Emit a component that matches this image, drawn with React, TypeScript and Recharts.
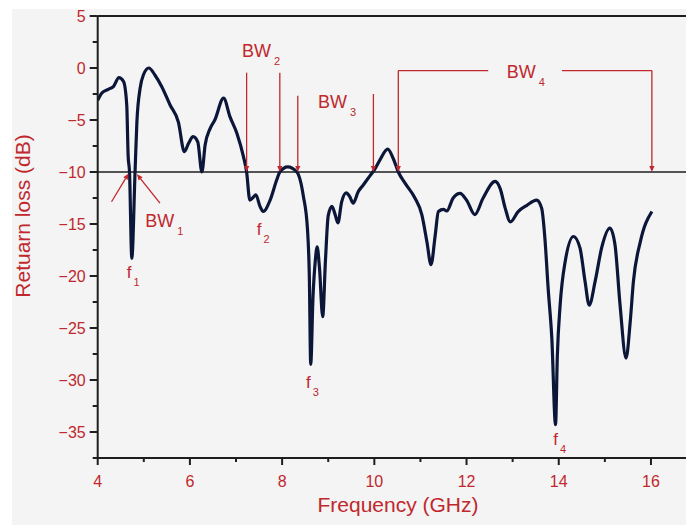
import { LineChart, Line, XAxis, YAxis, ReferenceLine, ReferenceDot } from "recharts";

const RED = "#c0282d";
const NAVY = "#0c1638";
const AXIS = "#1e1e1e";
const FONT = "'Liberation Sans', Arial, sans-serif";

// frequency (GHz) and return loss (dB)
const freqs = [
  4.0, 4.09, 4.23, 4.34, 4.46, 4.56, 4.63, 4.66, 4.69, 4.74, 4.81, 4.85, 4.92, 4.99, 5.11,
  5.24, 5.39, 5.57, 5.75, 5.88, 5.97, 6.07, 6.17, 6.26, 6.33, 6.44, 6.54, 6.73, 6.87, 7.02,
  7.16, 7.23, 7.3, 7.38, 7.43, 7.52, 7.59, 7.74, 7.88, 7.95, 8.12, 8.32, 8.46, 8.55, 8.59,
  8.62, 8.67, 8.72, 8.76, 8.81, 8.88, 8.94, 9.0, 9.08, 9.15, 9.21, 9.29, 9.39, 9.47, 9.54,
  9.65, 9.76, 9.9, 10.0, 10.12, 10.29, 10.41, 10.52, 10.67, 10.88, 11.03, 11.14, 11.23, 11.32,
  11.39, 11.5, 11.57, 11.71, 11.86, 12.0, 12.18, 12.36, 12.62, 12.73, 12.84, 12.95, 13.12,
  13.31, 13.52, 13.63, 13.7, 13.77, 13.85, 13.93, 13.97, 14.03, 14.14, 14.32, 14.46, 14.57,
  14.66, 14.79, 14.93, 15.11, 15.22, 15.33, 15.46, 15.55, 15.62, 15.77, 16.02,
];
const returnLoss = [
  -3.1, -2.4, -2.05, -1.8, -0.93, -1.3, -3.56, -8.4, -10, -18.3, -10, -5.2, -1.95, -0.67, 0,
  -0.67, -1.8, -3.56, -5.2, -8.05, -7.25, -6.6, -7.1, -10, -7.4, -5.8, -5.0, -2.9, -4.7, -6.3,
  -8.5, -10, -12.7, -12.4, -12.2, -13.3, -13.8, -12.7, -10.8, -10, -9.5, -10, -12.3, -15.5, -20,
  -28.5, -22, -18.5, -17.2, -19.2, -23.9, -18.5, -14.2, -13.3, -14.1, -14.9, -12.9, -12.0, -12.4, -13.0,
  -11.9, -11.25, -10.4, -9.8, -8.85, -7.8, -8.7, -10, -11.1, -12.5, -14.1, -16.7, -18.9, -16.1,
  -13.8, -13.6, -13.75, -12.5, -12.05, -12.7, -14.1, -12.5, -10.9, -11.6, -13.5, -14.8, -13.8,
  -13.2, -12.7, -13.5, -16.4, -21.2, -26, -34.3, -27.6, -22.8, -18.6, -16.2, -17.3, -20.5,
  -22.8, -20.5, -17.3, -15.4, -17, -22.8, -27.9, -24.4, -20.5, -16.7, -13.8,
];

const xTicks = [4, 5, 6, 7, 8, 9, 10, 11, 12, 13, 14, 15, 16];
const yTicks = [
  -37.5, -35, -32.5, -30, -27.5, -25, -22.5, -20, -17.5, -15, -12.5, -10, -7.5, -5, -2.5, 0, 2.5, 5,
];

// bandwidth arrows, in data units: [x1, y1, x2, y2]
const arrows = [
  [4.3, -12.86, 4.67, -10.15],
  [5.35, -13.0, 4.85, -10.2],
  [7.23, -0.45, 7.23, -10],
  [7.95, -0.45, 7.95, -10],
  [8.34, -2.66, 8.34, -10],
  [9.98, -2.5, 9.98, -10],
  [10.52, -0.25, 10.52, -10],
  [16.02, -0.25, 16.02, -10],
];
const bracketLines = [
  [10.52, -0.25, 12.47, -0.25],
  [14.07, -0.25, 16.02, -0.25],
];
const labels = [
  { x: 5.03, y: -15.26, main: "BW", sub: "1", size: 18, gap: 3 },
  { x: 7.13, y: 1.06, main: "BW", sub: "2", size: 18, gap: 3 },
  { x: 8.78, y: -3.85, main: "BW", sub: "3", size: 18, gap: 3 },
  { x: 12.87, y: -0.99, main: "BW", sub: "4", size: 18, gap: 3 },
  { x: 4.63, y: -20.2, main: "f", sub: "1", size: 17, gap: 2 },
  { x: 7.45, y: -16.06, main: "f", sub: "2", size: 17, gap: 2 },
  { x: 8.52, y: -30.8, main: "f", sub: "3", size: 17, gap: 2 },
  { x: 13.88, y: -36.25, main: "f", sub: "4", size: 17, gap: 2 },
];

const data = freqs.map((f, i) => ({ f, rl: returnLoss[i] }));

const fmt = (v: number) => (v < 0 ? `\u2212${-v}` : `${v}`);

const XTick = (props: any) => {
  const { x, y, payload } = props;
  const v = payload.value;
  const major = v % 2 === 0;
  return (
    <g>
      <line x1={x} x2={x} y1={y} y2={y + (major ? 7 : 4)} stroke={AXIS} strokeWidth={2} />
      {major && (
        <text x={x} y={y + 28.5} textAnchor="middle" fill={RED} fontSize={16} fontFamily={FONT}>
          {v}
        </text>
      )}
    </g>
  );
};

const YTick = (props: any) => {
  const { x, y, payload } = props;
  const v = payload.value;
  const major = v % 5 === 0;
  return (
    <g>
      <line x1={x - (major ? 8 : 5)} x2={x} y1={y} y2={y} stroke={AXIS} strokeWidth={2} />
      {major && (
        <text x={x - 12} y={y + 5.8} textAnchor="end" fill={RED} fontSize={16} fontFamily={FONT}>
          {fmt(v)}
        </text>
      )}
    </g>
  );
};

const ArrowShape = (p: any) => {
  const { x1, y1, x2, y2 } = p;
  const dx = x2 - x1;
  const dy = y2 - y1;
  const len = Math.hypot(dx, dy) || 1;
  const ux = dx / len;
  const uy = dy / len;
  const hl = 6;
  const hw = 2.6;
  const bx = x2 - ux * hl;
  const by = y2 - uy * hl;
  return (
    <g>
      <line x1={x1} y1={y1} x2={bx} y2={by} stroke={RED} strokeWidth={1.3} />
      <polygon
        points={`${x2},${y2} ${bx - uy * hw},${by + ux * hw} ${bx + uy * hw},${by - ux * hw}`}
        fill={RED}
      />
    </g>
  );
};

const makeLabel = (main: string, sub: string, size: number, gap: number) => (p: any) => (
  <text x={p.cx} y={p.cy} fill={RED} fontSize={size} fontFamily={FONT}>
    {main}
    <tspan dx={gap} dy={8} fontSize={11}>
      {sub}
    </tspan>
  </text>
);

export default function App() {
  return (
    <div style={{ position: "relative", width: 686, height: 525, background: "#fff" }}>
      <style>{"body{margin:0}"}</style>
      <div
        style={{ position: "absolute", left: 12, top: 9, right: 0, bottom: 0, background: "#f4f4f4" }}
      />
      <div style={{ position: "absolute", left: 0, top: 0 }}>
        <LineChart width={686} height={525} data={data} margin={{ top: 16, right: 0, bottom: 0, left: 0 }}>
          <XAxis
            dataKey="f"
            type="number"
            domain={[4, 16.76]}
            ticks={xTicks}
            interval={0}
            allowDataOverflow
            height={67}
            tickSize={0}
            tickMargin={0}
            tickLine={false}
            tick={<XTick />}
            axisLine={{ stroke: AXIS, strokeWidth: 2 }}
            label={{
              content: () => (
                <text x={398} y={511.5} textAnchor="middle" fill={RED} fontSize={21} fontFamily={FONT}>
                  Frequency (GHz)
                </text>
              ),
            }}
          />
          <YAxis
            type="number"
            domain={[-37.5, 5]}
            ticks={yTicks}
            interval={0}
            allowDataOverflow
            width={97.7}
            tickSize={0}
            tickMargin={0}
            tickLine={false}
            tick={<YTick />}
            axisLine={{ stroke: AXIS, strokeWidth: 2 }}
            label={{
              content: () => (
                <text
                  x={30}
                  y={216}
                  transform="rotate(-90 30 216)"
                  textAnchor="middle"
                  fill={RED}
                  fontSize={21}
                  fontFamily={FONT}
                >
                  Retuarn loss (dB)
                </text>
              ),
            }}
          />
          <ReferenceLine y={5} stroke={AXIS} strokeWidth={2} ifOverflow="visible" />
          <ReferenceLine y={-10} stroke={AXIS} strokeWidth={1.3} />
          <Line
            type="monotone"
            dataKey="rl"
            stroke={NAVY}
            strokeWidth={3.2}
            dot={false}
            activeDot={false}
            isAnimationActive={false}
          />
          {bracketLines.map((s, i) => (
            <ReferenceLine
              key={`b${i}`}
              segment={[
                { x: s[0], y: s[1] },
                { x: s[2], y: s[3] },
              ]}
              stroke={RED}
              strokeWidth={1.3}
              ifOverflow="visible"
            />
          ))}
          {arrows.map((s, i) => (
            <ReferenceLine
              key={`a${i}`}
              segment={[
                { x: s[0], y: s[1] },
                { x: s[2], y: s[3] },
              ]}
              shape={ArrowShape}
              ifOverflow="visible"
            />
          ))}
          {labels.map((l, i) => (
            <ReferenceDot
              key={`l${i}`}
              x={l.x}
              y={l.y}
              r={1}
              ifOverflow="visible"
              shape={makeLabel(l.main, l.sub, l.size, l.gap)}
            />
          ))}
        </LineChart>
      </div>
    </div>
  );
}
